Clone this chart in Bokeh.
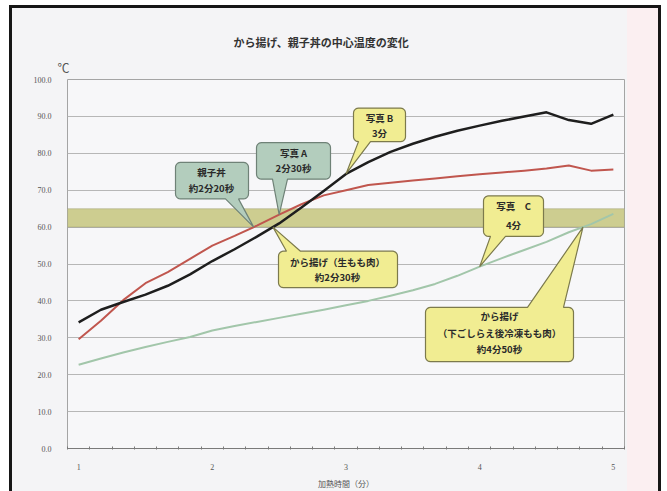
import numpy as np
from bokeh.plotting import figure
from bokeh.models import (Range1d, FixedTicker, PrintfTickFormatter, BoxAnnotation,
                          Label, Title, ColumnDataSource)
from bokeh.embed import file_html
from bokeh.resources import INLINE

# ---- data: core temperature (deg C) sampled every 10 seconds ----
time_sec = [60, 70, 80, 90, 100, 110, 120, 130, 140, 150, 160, 170, 180,
            190, 200, 210, 220, 230, 240, 250, 260, 270, 280, 290, 300]
# から揚げ（生もも肉）
karaage_raw = [34.2, 37.6, 39.7, 41.7, 44.1, 47.2, 50.8, 54.0, 57.4, 61.0, 65.3, 69.8, 74.4,
               77.6, 80.4, 82.6, 84.5, 86.1, 87.5, 88.8, 90.0, 91.1, 89.0, 88.0, 90.5]
# 親子丼
oyakodon = [29.6, 34.6, 40.2, 44.8, 47.8, 51.4, 55.0, 57.6, 60.4, 63.4, 66.2, 68.6, 70.0,
            71.4, 72.0, 72.6, 73.2, 73.8, 74.3, 74.8, 75.3, 75.9, 76.7, 75.3, 75.6]
# から揚げ（下ごしらえ後冷凍もも肉）
karaage_frozen = [22.7, 24.4, 26.0, 27.5, 28.9, 30.2, 32.0, 33.2, 34.3, 35.4, 36.5, 37.6, 38.8,
                  40.0, 41.4, 42.9, 44.6, 46.8, 49.3, 51.6, 53.8, 56.0, 58.6, 60.8, 63.6]

x_ticks = [1, 2, 3, 4, 5]
y_ticks = [0, 10, 20, 30, 40, 50, 60, 70, 80, 90, 100]
band_low, band_high = 60, 65

minutes = np.array(time_sec) / 60.0
edges = [(s - 5) / 60.0 for s in time_sec] + [(time_sec[-1] + 5) / 60.0]


def value_at(series, t):
    return float(np.interp(t, minutes, series))


def time_at(series, level):
    for i in range(len(series) - 1):
        a, b = series[i], series[i + 1]
        if a < level <= b:
            return float(minutes[i] + (level - a) / (b - a) * (minutes[i + 1] - minutes[i]))
    return float(minutes[-1])


# ---- canvas geometry ----
W, H = 667, 491
FL, FR, FT, FB = 67, 624, 79, 453
x0, x1 = edges[0], edges[-1]
sx = (FR - FL) / (x1 - x0)
sy = (FB - FT) / 100.0


def to_px(t, v):
    return FL + (t - x0) * sx, FB - v * sy


def to_data(px, py):
    return x0 + (px - FL) / sx, (FB - py) / sy


JP = "Noto Sans CJK JP"

p = figure(width=W, height=H, output_backend="svg", toolbar_location=None, tools="",
           x_range=Range1d(x0, x1), y_range=Range1d(0, 100),
           min_border_left=FL, min_border_right=W - FR,
           min_border_top=FT, min_border_bottom=H - FB)
p.title = None

ink = "#161616"
p.styles = {
    "background": (
        f"linear-gradient({ink},{ink}) 9px 5px / 3px 486px no-repeat, "
        f"linear-gradient({ink},{ink}) 9px 5px / 652px 3px no-repeat, "
        f"linear-gradient({ink},{ink}) 658px 5px / 3px 486px no-repeat, "
        "linear-gradient(#fbeff1,#fbeff1) 627px 8px / 31px 483px no-repeat, "
        "linear-gradient(#f4f4f6,#f4f4f6) 12px 8px / 646px 483px no-repeat, "
        "#ffffff"
    )
}
p.border_fill_color = None
p.background_fill_color = "#f7f7f9"
p.outline_line_color = "#a4a4a4"
p.outline_line_width = 1

# unit mark (closest to the frame) and chart heading above it
p.add_layout(Title(text="℃", align="left", offset=-10, standoff=7,
                   text_font=JP, text_font_size="12px", text_font_style="normal",
                   text_color="#555555"), "above")
p.add_layout(Title(text="から揚げ、親子丼の中心温度の変化", align="left", offset=166, standoff=8,
                   text_font=JP, text_font_size="11px", text_font_style="bold",
                   text_color="#333333"), "above")

# axes
p.yaxis.ticker = FixedTicker(ticks=y_ticks)
p.yaxis.formatter = PrintfTickFormatter(format="%.1f")
p.yaxis.axis_line_color = None
p.yaxis.major_tick_line_color = None
p.yaxis.minor_tick_line_color = None
p.yaxis.major_label_standoff = 10
p.yaxis.major_label_text_font = "Liberation Sans Narrow"
p.yaxis.major_label_text_font_size = "8px"
p.yaxis.major_label_text_color = "#555555"

p.xaxis.ticker = FixedTicker(ticks=x_ticks, minor_ticks=edges)
p.xaxis.axis_line_color = "#7a7a7a"
p.xaxis.major_tick_line_color = None
p.xaxis.minor_tick_line_color = "#7a7a7a"
p.xaxis.minor_tick_in = 2
p.xaxis.minor_tick_out = 1
p.xaxis.major_label_standoff = 9
p.xaxis.major_label_text_font = "Liberation Sans Narrow"
p.xaxis.major_label_text_font_size = "8px"
p.xaxis.major_label_text_color = "#555555"
p.xaxis.axis_label = "加熱時間（分）"
p.xaxis.axis_label_text_font = JP
p.xaxis.axis_label_text_font_size = "8px"
p.xaxis.axis_label_text_font_style = "normal"
p.xaxis.axis_label_text_color = "#555555"
p.xaxis.axis_label_standoff = 5

p.ygrid.ticker = FixedTicker(ticks=y_ticks)
p.ygrid.grid_line_color = "#b7b7b7"
p.xgrid.grid_line_color = None

# 60-65 deg band
p.add_layout(BoxAnnotation(bottom=band_low, top=band_high, fill_color="#cdcd90", fill_alpha=1.0,
                           line_color="#8c8c58", line_width=1.2, level="underlay"))

# temperature curves
p.line(minutes, oyakodon, line_color="#c0564e", line_width=2, line_join="round")
p.line(minutes, karaage_frozen, line_color="#a2c6aa", line_width=2, line_join="round")
p.line(minutes, karaage_raw, line_color="#1e1e1e", line_width=2.5, line_join="round")


# ---- callouts ----
def callout(L, T, R, B, edge, base, tip, r=5.0):
    pts = []

    def arc(cx, cy, a0, a1):
        for a in np.linspace(np.radians(a0), np.radians(a1), 6):
            pts.append((cx + r * np.cos(a), cy + r * np.sin(a)))

    b1, b2 = base
    arc(L + r, T + r, 180, 270)
    if edge == "top":
        pts.extend([(b1, T), tip, (b2, T)])
    arc(R - r, T + r, 270, 360)
    arc(R - r, B - r, 0, 90)
    if edge == "bottom":
        pts.extend([(b2, B), tip, (b1, B)])
    arc(L + r, B - r, 90, 180)
    xs, ys = zip(*[to_data(a, b) for a, b in pts])
    return list(xs), list(ys)


GREEN_FILL, GREEN_LINE = "#b3cdbd", "#6f8277"
YEL_FILL, YEL_LINE = "#f1ed92", "#7c7a4c"

callouts = [
    dict(box=(175, 163, 248, 200), edge="bottom", base=(225, 238),
         tip=to_px(time_at(oyakodon, band_low), band_low), fill=GREEN_FILL, line=GREEN_LINE,
         text=[("親子丼", 211, 173), ("約2分20秒", 211, 189)]),
    dict(box=(256, 143, 330, 180), edge="bottom", base=(272, 287),
         tip=to_px(2.5, value_at(oyakodon, 2.5)), fill=GREEN_FILL, line=GREEN_LINE,
         text=[("写真 A", 293, 154), ("2分30秒", 293, 169)]),
    dict(box=(353, 108, 405, 142), edge="bottom", base=(358, 370),
         tip=to_px(3.0, value_at(karaage_raw, 3.0)), fill=YEL_FILL, line=YEL_LINE,
         text=[("写真 B", 379, 118), ("3分", 379, 133)]),
    dict(box=(278, 253, 397, 290), edge="top", base=(286, 300),
         tip=to_px(time_at(karaage_raw, band_low), band_low), fill=YEL_FILL, line=YEL_LINE,
         text=[("から揚げ（生もも肉）", 337, 264), ("約2分30秒", 337, 279)]),
    dict(box=(483, 197, 543, 238), edge="bottom", base=(490, 505),
         tip=to_px(4.0, value_at(karaage_frozen, 4.0)), fill=YEL_FILL, line=YEL_LINE,
         text=[("写真　C", 513, 207), ("4分", 513, 226)]),
    dict(box=(425, 310, 573, 365), edge="top", base=(527, 563),
         tip=to_px(time_at(karaage_frozen, band_low), band_low), fill=YEL_FILL, line=YEL_LINE,
         text=[("から揚げ", 499, 319), ("（下ごしらえ後冷凍もも肉）", 499, 336), ("約4分50秒", 499, 352)]),
]

cxs, cys, cfill, cline = [], [], [], []
for c in callouts:
    xs, ys = callout(*c["box"], c["edge"], c["base"], c["tip"])
    cxs.append(xs)
    cys.append(ys)
    cfill.append(c["fill"])
    cline.append(c["line"])
p.patches("xs", "ys", source=ColumnDataSource(dict(xs=cxs, ys=cys, fill=cfill, line=cline)),
          fill_color="fill", line_color="line", line_width=1.2)

for c in callouts:
    for txt, px, py in c["text"]:
        tx, ty = to_data(px, py)
        p.add_layout(Label(x=tx, y=ty, text=txt, text_font=JP, text_font_size="9.5px",
                           text_font_style="bold", text_color="#2a2a2a",
                           text_align="center", text_baseline="middle"))

open("out.html", "w").write(file_html(p, INLINE))
